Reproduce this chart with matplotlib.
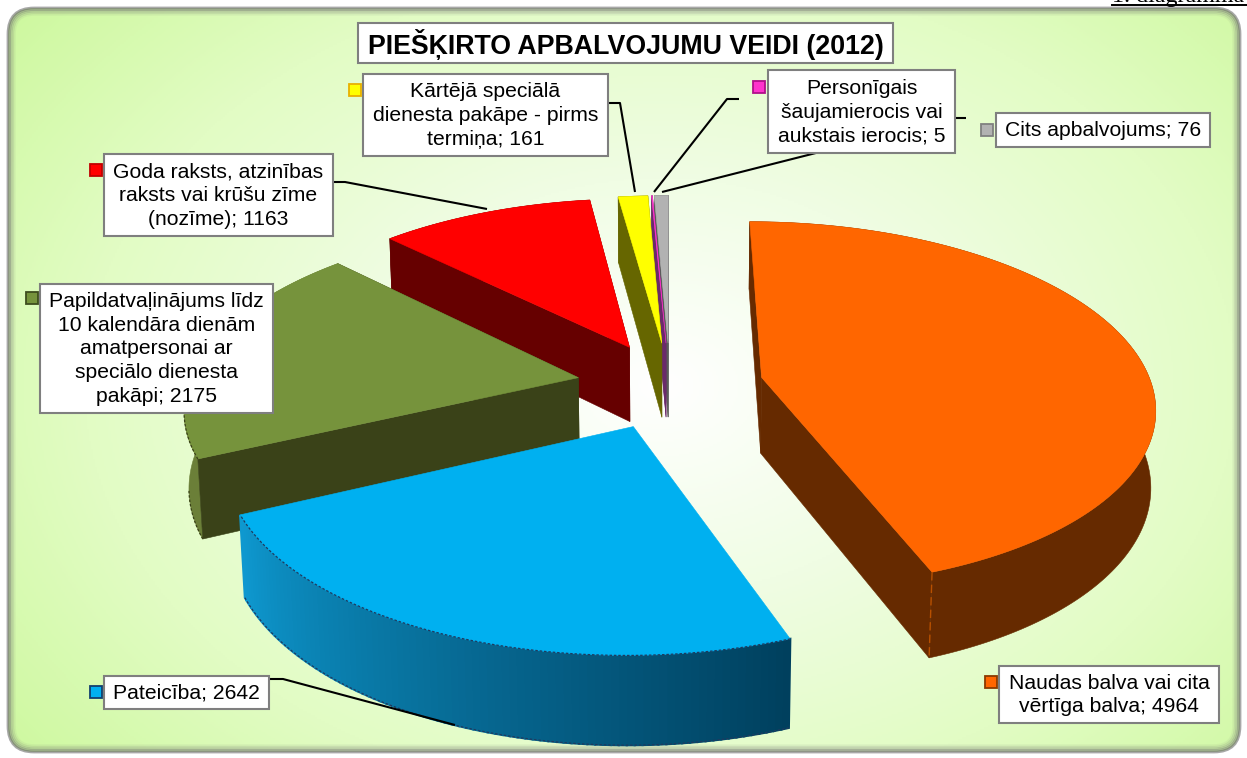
import numpy as np
import matplotlib
matplotlib.use("Agg")
import matplotlib.pyplot as plt
from matplotlib.patches import FancyBboxPatch, Polygon, Rectangle
from matplotlib.colors import LinearSegmentedColormap, to_rgb

plt.rcParams['font.family'] = ['Liberation Sans', 'DejaVu Sans']

# ---- data ----
title = "PIEŠĶIRTO APBALVOJUMU VEIDI (2012)"
header = "1. diagramma"
categories = ["Naudas balva vai cita\nvērtīga balva",
              "Pateicība",
              "Papildatvaļinājums līdz\n10 kalendāra dienām\namatpersonai ar\nspeciālo dienesta\npakāpi",
              "Goda raksts, atzinības\nraksts vai krūšu zīme\n(nozīme)",
              "Kārtējā speciālā\ndienesta pakāpe - pirms\ntermiņa",
              "Personīgais\nšaujamierocis vai\naukstais ierocis",
              "Cits apbalvojums"]
values = [4964, 2642, 2175, 1163, 161, 5, 76]

# ---- styles ----
top_colors = ["#FF6600", "#00B0F0", "#76933C", "#FF0000", "#FFFF00", "#FF33CC", "#B2B2B2"]
side_colors = ["#662A00", "#0A6E9A", "#3A4218", "#660000", "#666600", "#6A2A6A", "#5A5A5A"]
wall_colors = ["#662A00", "#0A6E9A", "#6B7F38", "#660000", "#666600", "#6A2A6A", "#5A5A5A"]
marker_edges = ["#8A3A00", "#123F6E", "#3E4D1E", "#C00000", "#E8B000", "#B0108A", "#808080"]

# layout: label boxes (left, top, right, bottom), marker left/top, leader path
boxes = [(999, 666, 1219, 723), (104, 676, 269, 709), (40, 284, 273, 413),
         (104, 154, 333, 236), (363, 74, 608, 156), (768, 70, 955, 153), (996, 113, 1210, 147)]
markers = [(985, 676), (90, 686), (26, 292), (90, 164), (349, 84), (753, 81), (981, 124)]
leaders = [None,
           [(269, 679), (283, 679), (455, 725)],
           None,
           [(333, 182), (345, 182), (487, 209)],
           [(608, 103), (620, 103), (635, 192)],
           [(739, 99), (727, 99), (654, 192)],
           [(966, 118), (954, 118), (662, 192)]]

W, H = 1247, 758
fig = plt.figure(figsize=(W / 100, H / 100), dpi=100, facecolor='white')
ax = fig.add_axes([0, 0, 1, 1])
ax.set_xlim(0, W)
ax.set_ylim(H, 0)
ax.axis('off')

# ---- background panel ----
L, T, R, B = 8, 8, 1240, 752
rad = 26
def panel(inset=0.0, **kw):
    p = FancyBboxPatch((L + rad, T + rad), R - L - 2 * rad, B - T - 2 * rad,
                       boxstyle=f"round,pad={rad - inset},rounding_size={max(rad - inset, 1)}", **kw)
    ax.add_patch(p)
    return p

yy, xx = np.mgrid[0:H:2, 0:W:2]
dist = np.sqrt(((xx - 660) / 640.0) ** 2 + ((yy - 385) / 460.0) ** 2)
cmap = LinearSegmentedColormap.from_list("bg", ["#FFFFFF", "#F0FDE4", "#E2FCC4", "#CBF89A"])
clip = panel(facecolor='none', edgecolor='none', zorder=0)
im = ax.imshow(np.clip(dist / 1.35, 0, 1), extent=(0, W, H, 0), cmap=cmap, vmin=0, vmax=1,
               aspect='auto', zorder=0.5)
im.set_clip_path(clip)
ax.set_xlim(0, W)
ax.set_ylim(H, 0)
for i, a in enumerate([0.6, 0.38, 0.24, 0.14, 0.07]):
    panel(inset=i * 1.6, facecolor='none', edgecolor='#6E6E6E', alpha=a, lw=2.0, zorder=0.8)

# ---- 3D exploded pie projection ----
CX, CY = 670.0, 385.0
SX, SY = 390.0, 181.0
PERSP = 0.149
EXPLODE = 0.24
DEPTH_Y, DEPTH_W = 77.0, 0.01

def project(X, Y, z=0.0):
    w = 1 + PERSP * Y + DEPTH_W * z
    return CX + SX * X / w, CY + (-SY * Y + DEPTH_Y * z) / w

total = float(sum(values))
angles = np.cumsum([0.0] + [v / total * 2 * np.pi for v in values])

def slice_geometry(i):
    a0, a1 = angles[i], angles[i + 1]
    mid = (a0 + a1) / 2
    ox, oy = EXPLODE * np.sin(mid), EXPLODE * np.cos(mid)
    th = np.linspace(a0, a1, max(int((a1 - a0) * 60), 3))
    return ox, oy, th

def poly(pts, color, z, lw=0.4):
    ax.add_patch(Polygon(pts, closed=True, facecolor=color, edgecolor=color, lw=lw, zorder=z))

def lerp(c1, c2, t):
    a, b = np.array(to_rgb(c1)), np.array(to_rgb(c2))
    return tuple(a + (b - a) * t)

def draw_slice(i, z):
    ox, oy, th = slice_geometry(i)
    ax_pts = np.column_stack([ox + np.sin(th), oy + np.cos(th)])
    apex = (ox, oy)
    # outer wall drawn as one polygon, or shaded strips for the blue slice
    if i != 1:
        wall = [project(*p) for p in ax_pts] + [project(*p, 1) for p in ax_pts[::-1]]
        poly(wall, wall_colors[i], z)
    else:
        n = len(th)
        for j in range(n - 1):
            col = lerp("#0E98CF", "#00405E", 1 - j / (n - 2))
            quad = [project(*ax_pts[j]), project(*ax_pts[j + 1]),
                    project(*ax_pts[j + 1], 1), project(*ax_pts[j], 1)]
            poly(quad, col, z, lw=1.6)
    # radial faces
    for end in (ax_pts[0], ax_pts[-1]):
        if i == 1:
            continue
        quad = [project(*apex), project(*end), project(*end, 1), project(*apex, 1)]
        poly(quad, side_colors[i], z + 0.01)
    # top
    top = [project(*apex)] + [project(*p) for p in ax_pts]
    poly(top, top_colors[i], z + 0.02)
    return ax_pts

order = [6, 5, 4, 3, 2, 0, 1]
for rank, i in enumerate(order):
    z0 = 2 + rank * 0.1
    pts = draw_slice(i, z0)
    if i in (1, 2):
        # dashed dark rim of the blue and green slices, only where their wall faces the viewer
        rim = '#1F3A5F' if i == 1 else '#3A4218'
        x0, y0 = map(np.array, zip(*[project(*p) for p in pts]))
        x1, y1 = map(np.array, zip(*[project(*p, 1) for p in pts]))
        end = len(pts) if i == 1 else int(np.argmin(x0)) + 1
        ax.plot(x0[:end], y0[:end], color=rim, lw=0.9, ls=(0, (2, 1.5)), zorder=z0 + 0.03)
        ax.plot(x1[:end], y1[:end], color=rim, lw=0.9, ls=(0, (2, 1.5)), zorder=z0 + 0.03)
    if i == 0:
        x, y = zip(project(*pts[-1]), project(*pts[-1], 1))
        ax.plot(x, y, color='#B85000', lw=1.0, ls=(0, (6, 3)), zorder=z0 + 0.03)

# ---- leader lines ----
for path in leaders:
    if path:
        xs, ys = zip(*path)
        ax.plot(xs, ys, color='black', lw=1.5, zorder=4, solid_capstyle='butt')

# ---- labels ----
FS = 15.2
for i, (cat, val) in enumerate(zip(categories, values)):
    l, t, r, b = boxes[i]
    ax.add_patch(Rectangle((l, t), r - l, b - t, facecolor='white', edgecolor='#7F7F7F', lw=1.5, zorder=5))
    ax.text((l + r) / 2, (t + b) / 2 + 0.5, f"{cat}; {val}", ha='center', va='center',
            fontsize=FS, color='black', linespacing=1.33, zorder=6)
    mx, my = markers[i]
    ax.add_patch(Rectangle((mx, my), 12, 12, facecolor=top_colors[i], edgecolor=marker_edges[i], lw=1.3, zorder=5))

# ---- title ----
ax.add_patch(Rectangle((358, 23), 535, 40, facecolor='white', edgecolor='#7F7F7F', lw=1.5, zorder=5))
ax.text(626, 44, title, ha='center', va='center', fontsize=19.25, fontweight='bold', color='black', zorder=6)

# ---- cut-off header top right ----
ax.text(1112, 2, header, ha='left', va='baseline', fontsize=17.3,
        family=['Liberation Serif', 'DejaVu Serif'], color='black', zorder=6, clip_on=True)
ax.plot([1112, 1247], [5, 5], color='black', lw=1.4, zorder=6)

fig.savefig("out.png", dpi=100, facecolor='white')
